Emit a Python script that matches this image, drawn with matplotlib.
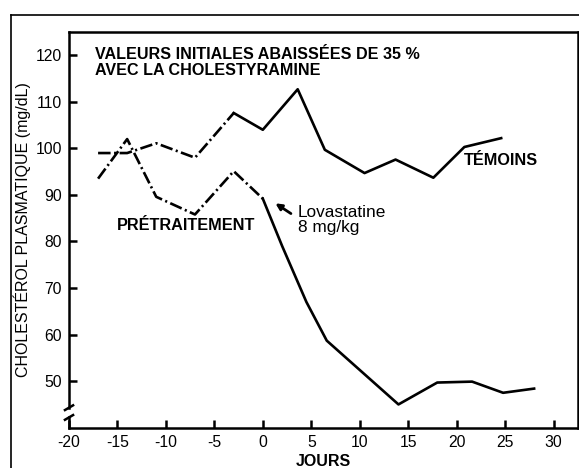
import matplotlib
matplotlib.use('Agg')
import matplotlib.pyplot as plt
from matplotlib.lines import Line2D

plt.rcParams['font.family'] = ['Liberation Sans', 'DejaVu Sans']
plt.rcParams['lines.scale_dashes'] = False

# ---- data ----
jours_temoins = [-17, -14, -11, -7, -3, 0, 3.6, 6.4, 10.5, 13.7, 17.6, 20.8, 24.6]
chol_temoins = [99, 99, 101.1, 98, 107.6, 104, 112.7, 99.7, 94.7, 97.6, 93.7, 100.3, 102.2]
split_temoins = 4   # pretreatment (dash-dot) up to this index, solid after

jours_lova = [-17, -14, -11, -7, -3, 0, 2, 4.5, 6.6, 14, 18, 21.6, 24.8, 28]
chol_lova = [93.5, 102, 89.6, 85.8, 95.1, 89.2, 79, 67, 58.7, 45, 49.7, 49.9, 47.5, 48.4]
split_lova = 5

xticks = [-20, -15, -10, -5, 0, 5, 10, 15, 20, 25, 30]
yticks = [50, 60, 70, 80, 90, 100, 110, 120]

dashdot = (0, (9, 2.5, 1.5, 2.5))
lw = 1.9

fig = plt.figure(figsize=(5.79, 4.68), dpi=100)
ax = fig.add_axes([0.1192, 0.0861, 0.8786, 0.8455])

for xs, ys, k in [(jours_temoins, chol_temoins, split_temoins),
                  (jours_lova, chol_lova, split_lova)]:
    ax.plot(xs[:k + 1], ys[:k + 1], color='black', lw=lw, linestyle=dashdot)
    ax.plot(xs[k:], ys[k:], color='black', lw=lw, linestyle='-')

ax.set_xlim(-20, 32.5)
ax.set_ylim(40, 125)
ax.set_xticks(xticks)
ax.set_yticks(yticks)
ax.set_xticklabels([str(t) for t in xticks])
ax.tick_params(direction='in', length=6, width=1.8, labelsize=11.3, pad=5)

for s in ax.spines.values():
    s.set_linewidth(1.8)
ax.spines['left'].set_visible(False)

# broken left axis
ax.plot([0, 0], [0.0506, 1], transform=ax.transAxes, color='black', lw=1.8, clip_on=False)
ax.plot([0, 0], [0, 0.026], transform=ax.transAxes, color='black', lw=1.8, clip_on=False)
for yb in [0.0506, 0.026]:
    ax.plot([-0.008, 0.008], [yb - 0.006, yb + 0.006], transform=ax.transAxes,
            color='black', lw=1.8, clip_on=False)

ax.set_ylabel('CHOLESTÉROL PLASMATIQUE (mg/dL)', fontsize=11.5, labelpad=3)
ax.set_xlabel('JOURS', fontsize=11.5, fontweight='bold', labelpad=3)

ax.text(-17.3, 121.8, 'VALEURS INITIALES ABAISSÉES DE 35 %\nAVEC LA CHOLESTYRAMINE',
        fontsize=11.6, fontweight='bold', va='top', ha='left', linespacing=1.05)
ax.text(-15.05, 83.4, 'PRÉTRAITEMENT', fontsize=11.7, fontweight='bold', va='center')
ax.text(20.8, 97.5, 'TÉMOINS', fontsize=11.7, fontweight='bold', va='center')
ax.text(3.6, 87.8, 'Lovastatine\n8 mg/kg', fontsize=12.4, va='top', linespacing=1.0)
ax.annotate('', xy=(1.3, 88.2), xytext=(2.9, 86.0),
            arrowprops=dict(arrowstyle='-|>', color='black', lw=2,
                            mutation_scale=9, shrinkA=0, shrinkB=0))

# outer frame of the scanned figure
fig.add_artist(Line2D([11 / 579, 11 / 579], [0, 1 - 15 / 468], color='black', lw=1.2))
fig.add_artist(Line2D([11 / 579, 1], [1 - 15 / 468, 1 - 15 / 468], color='black', lw=1.2))

fig.savefig('out.png', dpi=100)
